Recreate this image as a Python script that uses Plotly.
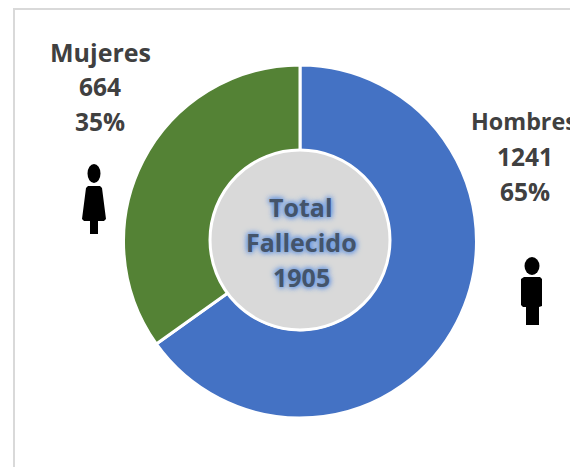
import plotly.graph_objects as go

labels = ["Hombres", "Mujeres"]
values = [1241, 664]
percents = ["65%", "35%"]
colors = ["#4472c4", "#548235"]
total_title = ["Total", "Fallecido"]
total = 1905

W, H = 570, 467
def px(x): return x / W
def py(y): return 1 - y / H
def path(points):
    return "M " + " L ".join(f"{px(x):.5f},{py(y):.5f}" for x, y in points) + " Z"

fig = go.Figure(go.Pie(
    labels=labels, values=values, hole=0.5, sort=False, direction="clockwise",
    rotation=0, textinfo="none", showlegend=False,
    marker=dict(colors=colors, line=dict(color="white", width=3)),
    domain=dict(x=[px(123), px(477)], y=[py(418), py(65)]),
))

shapes = [
    dict(type="rect", xref="paper", yref="paper", x0=px(14), x1=px(620), y0=py(9), y1=py(520),
         line=dict(color="#d9d9d9", width=2), fillcolor="rgba(0,0,0,0)", layer="below"),
    dict(type="circle", xref="paper", yref="paper", x0=px(210), x1=px(390), y0=py(330), y1=py(150),
         line=dict(color="white", width=3), fillcolor="#d9d9d9", layer="above"),
    # woman icon
    dict(type="circle", xref="paper", yref="paper", x0=px(87.5), x1=px(100.5), y0=py(183), y1=py(164),
         fillcolor="black", line_width=0),
    dict(type="path", xref="paper", yref="paper", fillcolor="black", line_width=0,
         path=path([(88, 186), (100, 186), (102, 188), (106, 219), (104, 221), (98, 221), (98, 234),
                    (90, 234), (90, 221), (84, 221), (82, 219), (86, 188)])),
    # man icon
    dict(type="circle", xref="paper", yref="paper", x0=px(524.5), x1=px(539.5), y0=py(275), y1=py(257),
         fillcolor="black", line_width=0),
    dict(type="path", xref="paper", yref="paper", fillcolor="black", line_width=0,
         path=path([(524, 277), (540, 277), (542, 279), (542, 306), (539, 307), (539, 325),
                    (526, 325), (526, 307), (523, 307), (521, 305), (521, 279)])),
]

font = dict(family="Open Sans", size=24.5, color="#404040", weight="bold")
def side_label(x, y, label, value, pct):
    rows = [str(value), pct]
    return [dict(xref="paper", yref="paper", x=px(x), y=py(y + (i + 1) * 35), text=t, showarrow=False,
                 xanchor="center", yanchor="middle", font=font) for i, t in enumerate(rows)]

def title_label(x, y, label, anchor, size):
    return dict(xref="paper", yref="paper", x=px(x), y=py(y), text=label, showarrow=False,
                xanchor=anchor, yanchor="middle", font={**font, "size": size})

center_font = dict(family="Open Sans", size=25, color="#44546a", weight="bold",
                   shadow="0 0 5px #6f9be0, 0 0 5px #6f9be0, 0 0 7px #6f9be0")
center_rows = total_title + [str(total)]
center = [dict(xref="paper", yref="paper", x=px(301), y=py(207 + i * 35), text=t, showarrow=False,
               xanchor="center", yanchor="middle", font=center_font) for i, t in enumerate(center_rows)]

fig.update_layout(
    width=W, height=H, margin=dict(l=0, r=0, t=0, b=0),
    paper_bgcolor="white", shapes=shapes,
    annotations=[title_label(100, 52, labels[1], "center", 25), title_label(469, 121, labels[0], "left", 23.3)]
    + side_label(100, 52, labels[1], values[1], percents[1])
    + side_label(525, 121, labels[0], values[0], percents[0]) + center,
)
fig.write_html("out.html", config={"displayModeBar": False},
               post_script="document.body.style.margin='0';document.documentElement.style.overflow='hidden';")
